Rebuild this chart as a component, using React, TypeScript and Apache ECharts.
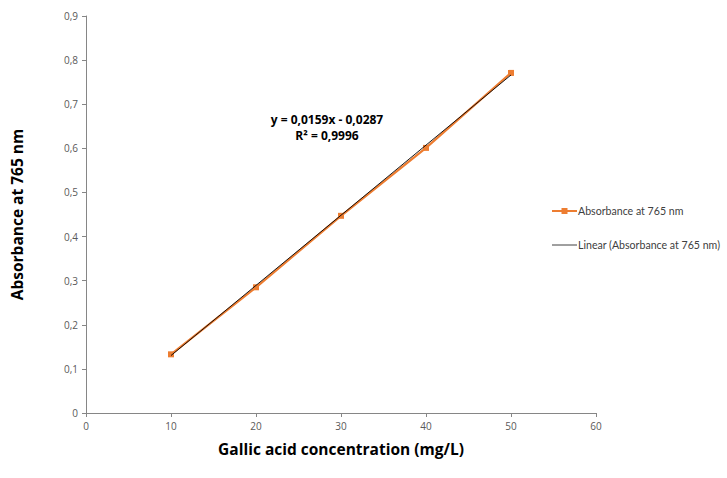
import React, { useEffect, useRef } from "react";
import * as echarts from "echarts";

const concentrations = [10, 20, 30, 40, 50];
const absorbance = [0.133, 0.285, 0.447, 0.601, 0.771];
const slope = 0.0159;
const intercept = -0.0287;
const trendX = [10, 50];
const seriesName = "Absorbance at 765 nm";
const trendName = "Linear (Absorbance at 765 nm)";
const equationLines = ["y = 0,0159x - 0,0287", "R² = 0,9996"];

export default function App() {
  const ref = useRef<HTMLDivElement>(null);
  useEffect(() => {
    if (!ref.current) return;
    const chart = echarts.init(ref.current, null, { renderer: "svg" });
    const font = "'Open Sans', 'DejaVu Sans', sans-serif";
    const legendFont = "Lato, 'Open Sans', sans-serif";
    const fmt = (v: number) => String(Math.round(v * 10) / 10).replace(".", ",");
    const orange = "#ED7D31";
    chart.setOption({
      animation: false,
      backgroundColor: "#ffffff",
      textStyle: { fontFamily: font },
      grid: { left: 86, right: 131, top: 16, bottom: 65 },
      xAxis: {
        type: "value",
        min: 0,
        max: 60,
        interval: 10,
        name: "Gallic acid concentration (mg/L)",
        nameLocation: "middle",
        nameGap: 28,
        nameTextStyle: { fontSize: 15.5, fontWeight: "bold", color: "#000", fontFamily: font },
        axisLine: { show: true, lineStyle: { color: "#868686" } },
        axisTick: { show: true, length: 4, lineStyle: { color: "#868686" } },
        axisLabel: { fontSize: 10, color: "#595959", margin: 8 },
        splitLine: { show: false },
      },
      yAxis: {
        type: "value",
        min: 0,
        max: 0.9,
        interval: 0.1,
        name: "Absorbance at 765 nm",
        nameLocation: "middle",
        nameGap: 61,
        nameTextStyle: { fontSize: 15.5, fontWeight: "bold", color: "#000", fontFamily: font },
        axisLine: { show: true, lineStyle: { color: "#868686" } },
        axisTick: { show: true, length: 4, lineStyle: { color: "#868686" } },
        axisLabel: { fontSize: 10, color: "#595959", margin: 8, formatter: fmt },
        splitLine: { show: false },
      },
      series: [
        {
          name: seriesName,
          type: "line",
          data: concentrations.map((x, i) => [x, absorbance[i]]),
          symbol: "rect",
          symbolSize: 6,
          itemStyle: { color: orange },
          lineStyle: { color: orange, width: 2.25 },
          z: 2,
        },
        {
          name: trendName,
          type: "line",
          data: trendX.map((x) => [x, slope * x + intercept]),
          symbol: "none",
          itemStyle: { color: "#000000" },
          lineStyle: { color: "#000000", width: 0.9 },
          z: 3,
        },
      ],
      graphic: [
        {
          type: "text",
          x: 327,
          y: 111,
          style: {
            text: equationLines.join("\n"),
            font: `bold 12px ${font}`,
            fill: "#000",
            align: "center",
            verticalAlign: "top",
            lineHeight: 16,
          },
        },
        {
          type: "line",
          shape: { x1: 552, y1: 211, x2: 577, y2: 211 },
          style: { stroke: orange, lineWidth: 2 },
        },
        {
          type: "rect",
          shape: { x: 561.5, y: 208, width: 6, height: 6 },
          style: { fill: orange },
        },
        {
          type: "text",
          x: 578,
          y: 211,
          style: {
            text: seriesName,
            font: `10.6px ${legendFont}`,
            fill: "#404040",
            verticalAlign: "middle",
          },
        },
        {
          type: "line",
          shape: { x1: 552, y1: 245, x2: 577, y2: 245 },
          style: { stroke: "#404040", lineWidth: 1 },
        },
        {
          type: "text",
          x: 578,
          y: 245,
          style: {
            text: trendName,
            font: `10.6px ${legendFont}`,
            fill: "#404040",
            verticalAlign: "middle",
          },
        },
      ],
    });
    return () => chart.dispose();
  }, []);
  return <div ref={ref} style={{ width: 727, height: 478, position: "absolute", left: 0, top: 0 }} />;
}
